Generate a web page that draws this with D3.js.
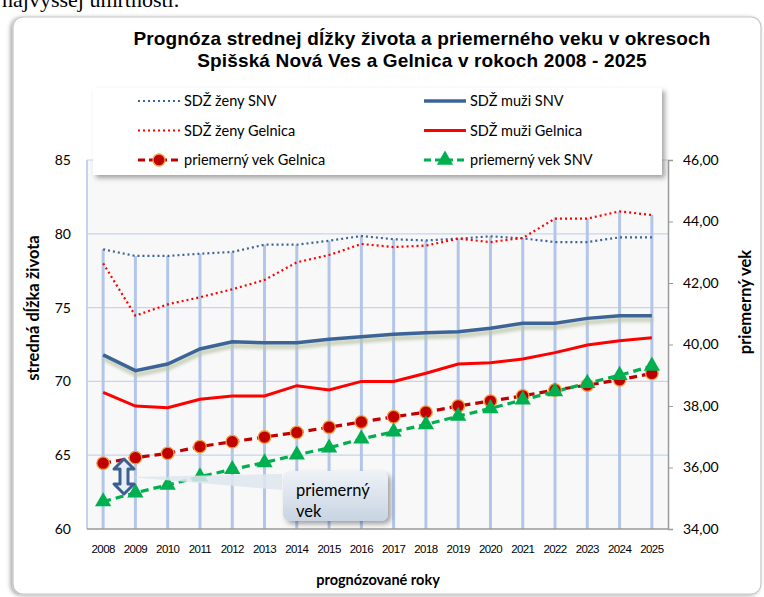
<!DOCTYPE html>
<html>
<head>
<meta charset="utf-8">
<script src="https://cdn.jsdelivr.net/npm/d3@7"></script>
<style>
  body { margin: 0; background: #fff; }
  svg { display: block; }
</style>
</head>
<body>
<div class="chart"></div>
<script>
var svgWidth = 764;
var svgHeight = 597;

// plot area
var margin = { top: 160, right: 96, bottom: 68, left: 87 };
var width = svgWidth - margin.left - margin.right;
var height = svgHeight - margin.top - margin.bottom;

var years = ["2008","2009","2010","2011","2012","2013","2014","2015","2016",
  "2017","2018","2019","2020","2021","2022","2023","2024","2025"];

var zenySNV = [78.95,78.5,78.5,78.65,78.77,79.26,79.26,79.53,79.85,79.63,79.55,79.67,79.83,79.69,79.44,79.44,79.76,79.76];
var zenyGelnica = [78.0,74.45,75.22,75.7,76.24,76.87,78.07,78.56,79.31,79.1,79.2,79.67,79.44,79.72,81.03,81.03,81.52,81.27];
var muziSNV = [71.8,70.73,71.18,72.2,72.69,72.62,72.62,72.85,73.03,73.19,73.3,73.37,73.6,73.94,73.94,74.27,74.45,74.45];
var muziGelnica = [69.26,68.33,68.22,68.79,69.01,69.01,69.71,69.42,70.0,70.0,70.55,71.18,71.27,71.52,71.95,72.47,72.76,72.96];
var vekGelnica = [36.14,36.32,36.46,36.68,36.84,36.99,37.14,37.31,37.48,37.65,37.8,38.0,38.16,38.33,38.52,38.68,38.85,39.06];
var vekSNV = [34.89,35.18,35.43,35.7,35.94,36.16,36.41,36.64,36.93,37.16,37.4,37.67,37.92,38.2,38.47,38.74,39.0,39.3];

var leftTicks = [60,65,70,75,80,85];
var rightTicks = [34,36,38,40,42,44,46];

var svg = d3.select(".chart")
  .append("svg")
  .attr("width", svgWidth)
  .attr("height", svgHeight);

var defs = svg.append("defs");

var sh = defs.append("filter").attr("id", "shadow")
  .attr("x", "-10%").attr("y", "-10%").attr("width", "130%").attr("height", "140%");
sh.append("feDropShadow").attr("dx", 3).attr("dy", 3).attr("stdDeviation", 2.5)
  .attr("flood-color", "#000").attr("flood-opacity", 0.35);

var boxSh = defs.append("filter").attr("id", "boxshadow")
  .attr("x", "-5%").attr("y", "-5%").attr("width", "110%").attr("height", "110%");
boxSh.append("feDropShadow").attr("dx", -2).attr("dy", 1).attr("stdDeviation", 2)
  .attr("flood-color", "#000").attr("flood-opacity", 0.35);

var lineBlur = defs.append("filter").attr("id", "lineblur")
  .attr("x", "-5%").attr("y", "-50%").attr("width", "110%").attr("height", "200%");
lineBlur.append("feGaussianBlur").attr("stdDeviation", 1.5);

var grad = defs.append("linearGradient").attr("id", "callgrad")
  .attr("x1", 0).attr("y1", 0).attr("x2", 0).attr("y2", 1);
grad.append("stop").attr("offset", "0%").attr("stop-color", "#eef2f7");
grad.append("stop").attr("offset", "100%").attr("stop-color", "#c8d4e3");

// text above the chart, cut off by the page top as in the source page
svg.append("text")
  .attr("x", 2)
  .attr("y", 7)
  .style("font-family", "Liberation Serif, serif")
  .style("font-size", "22px")
  .attr("fill", "#000")
  .text("najvyššej úmrtnosti.");

// chart area
svg.append("rect")
  .attr("x", 13).attr("y", 17)
  .attr("width", 748).attr("height", 577)
  .attr("rx", 10)
  .attr("fill", "#fff")
  .attr("stroke", "#c6c6c6")
  .attr("stroke-width", 1.2)
  .attr("filter", "url(#boxshadow)");

// title
var title = svg.append("text")
  .attr("text-anchor", "middle")
  .style("font-family", "Liberation Sans, Arial, sans-serif")
  .style("font-weight", "bold")
  .style("font-size", "19px")
  .style("letter-spacing", "0.15px")
  .attr("fill", "#000");
title.append("tspan").attr("x", 422).attr("y", 45)
  .text("Prognóza strednej dĺžky života a priemerného veku v okresoch");
title.append("tspan").attr("x", 422).attr("y", 67)
  .text("Spišská Nová Ves a Gelnica v rokoch 2008 - 2025");

var chartGroup = svg.append("g")
  .attr("transform", `translate(${margin.left}, ${margin.top})`);

var x = d3.scaleBand().domain(years).range([0, width]);
var yL = d3.scaleLinear().domain([60, 85]).range([height, 0]);
var yR = d3.scaleLinear().domain([34, 46]).range([height, 0]);
var cx = d => x(d) + x.bandwidth() / 2;

// plot background
chartGroup.append("rect")
  .attr("width", width).attr("height", height)
  .attr("fill", "#f8f8f8");

// gridlines
chartGroup.selectAll(".grid")
  .data(leftTicks.slice(1))
  .enter()
  .append("line")
  .attr("x1", 0).attr("x2", width)
  .attr("y1", d => yL(d)).attr("y2", d => yL(d))
  .attr("stroke", "#c6d5ee")
  .attr("stroke-width", 1.2);

// drop lines from the top left-axis value down to the category axis
years.forEach(function(yr, i) {
  var top = Math.max(zenySNV[i], zenyGelnica[i], muziSNV[i], muziGelnica[i]);
  chartGroup.append("line")
    .attr("x1", cx(yr)).attr("x2", cx(yr))
    .attr("y1", yL(top)).attr("y2", height)
    .attr("stroke", "#b3c6e8")
    .attr("stroke-width", 3);
});

// axes lines
chartGroup.append("line")
  .attr("x1", 0).attr("x2", 0).attr("y1", 0).attr("y2", height)
  .attr("stroke", "#b3c6e8").attr("stroke-width", 1.5);
chartGroup.append("line")
  .attr("x1", 0).attr("x2", width).attr("y1", height).attr("y2", height)
  .attr("stroke", "#9a9a9a").attr("stroke-width", 1.5);

var rightAxis = d3.axisRight(yR)
  .tickValues(rightTicks)
  .tickSize(5)
  .tickPadding(10)
  .tickFormat(d => d3.format(".2f")(d).replace(".", ","));
var rAx = chartGroup.append("g")
  .attr("transform", `translate(${width}, 0)`)
  .call(rightAxis);
rAx.select(".domain").attr("stroke", "#9a9a9a").attr("stroke-width", 1.5);
rAx.selectAll(".tick line").attr("stroke", "#9a9a9a");
rAx.selectAll("text")
  .style("font-family", "Lato, sans-serif")
  .style("font-size", "14px")
  .attr("fill", "#000");

var leftAxis = d3.axisLeft(yL)
  .tickValues(leftTicks)
  .tickSize(0)
  .tickPadding(16);
var lAx = chartGroup.append("g").call(leftAxis);
lAx.select(".domain").remove();
lAx.selectAll("text")
  .style("font-family", "Lato, sans-serif")
  .style("font-size", "14px")
  .attr("fill", "#000");

var bottomAxis = d3.axisBottom(x).tickSize(0).tickPadding(16);
var bAx = chartGroup.append("g")
  .attr("transform", `translate(0, ${height})`)
  .call(bottomAxis);
bAx.select(".domain").remove();
bAx.selectAll("text")
  .style("font-family", "Liberation Sans, Arial, sans-serif")
  .style("font-size", "11.5px")
  .style("letter-spacing", "-0.6px")
  .attr("fill", "#000");

// axis titles
svg.append("text")
  .attr("transform", "translate(39, 308) rotate(-90)")
  .attr("text-anchor", "middle")
  .style("font-family", "Lato, sans-serif")
  .style("font-weight", "bold")
  .style("font-size", "16.5px")
  .text("stredná dĺžka života");

svg.append("text")
  .attr("transform", "translate(751, 302) rotate(-90)")
  .attr("text-anchor", "middle")
  .style("font-family", "Lato, sans-serif")
  .style("font-weight", "bold")
  .style("font-size", "16.5px")
  .text("priemerný vek");

svg.append("text")
  .attr("x", 378).attr("y", 585)
  .attr("text-anchor", "middle")
  .style("font-family", "Lato, sans-serif")
  .style("font-weight", "bold")
  .style("font-size", "14.5px")
  .text("prognózované roky");

// lines
function lineL(vals) {
  return d3.line().x((d, i) => cx(years[i])).y(d => yL(d))(vals);
}
function lineR(vals) {
  return d3.line().x((d, i) => cx(years[i])).y(d => yR(d))(vals);
}

// shadow under SDŽ muži SNV
chartGroup.append("path")
  .attr("d", lineL(muziSNV))
  .attr("transform", "translate(1, 4)")
  .attr("fill", "none")
  .attr("stroke", "#b9c4a6")
  .attr("stroke-width", 5)
  .attr("opacity", 0.7)
  .attr("filter", "url(#lineblur)");

chartGroup.append("path")
  .attr("d", lineL(muziSNV))
  .attr("fill", "none")
  .attr("stroke", "#3c6496")
  .attr("stroke-width", 3.5);

chartGroup.append("path")
  .attr("d", lineL(muziGelnica))
  .attr("fill", "none")
  .attr("stroke", "#ff0000")
  .attr("stroke-width", 3);

chartGroup.append("path")
  .attr("d", lineL(zenySNV))
  .attr("fill", "none")
  .attr("stroke", "#3c6496")
  .attr("stroke-width", 2.2)
  .attr("stroke-dasharray", "2,3");

chartGroup.append("path")
  .attr("d", lineL(zenyGelnica))
  .attr("fill", "none")
  .attr("stroke", "#ff0000")
  .attr("stroke-width", 2.2)
  .attr("stroke-dasharray", "2,3");

chartGroup.append("path")
  .attr("d", lineR(vekGelnica))
  .attr("fill", "none")
  .attr("stroke", "#c00000")
  .attr("stroke-width", 3.2)
  .attr("stroke-dasharray", "8,5");

chartGroup.append("path")
  .attr("d", lineR(vekSNV))
  .attr("fill", "none")
  .attr("stroke", "#00b050")
  .attr("stroke-width", 3.2)
  .attr("stroke-dasharray", "8,5");

chartGroup.selectAll(".dotG")
  .data(vekGelnica)
  .enter()
  .append("circle")
  .attr("cx", (d, i) => cx(years[i]))
  .attr("cy", d => yR(d))
  .attr("r", 6.3)
  .attr("fill", "#c00000")
  .attr("stroke", "#f0a040")
  .attr("stroke-width", 1.3);

var tri = d3.symbol().type(d3.symbolTriangle).size(115);
chartGroup.selectAll(".triS")
  .data(vekSNV)
  .enter()
  .append("path")
  .attr("d", tri)
  .attr("transform", (d, i) => `translate(${cx(years[i])}, ${yR(d)})`)
  .attr("fill", "#00b050");

// callout "priemerný vek"
svg.append("path")
  .attr("d", "M282,474 L282,490 L128,477 Z")
  .attr("fill", "#dfe6ee")
  .attr("opacity", 0.85);

svg.append("rect")
  .attr("x", 283).attr("y", 471)
  .attr("width", 105).attr("height", 50)
  .attr("rx", 7)
  .attr("fill", "url(#callgrad)")
  .attr("filter", "url(#shadow)");

var call = svg.append("text")
  .style("font-family", "Lato, sans-serif")
  .style("font-size", "16.5px")
  .attr("fill", "#000");
call.append("tspan").attr("x", 296).attr("y", 496).text("priemerný");
call.append("tspan").attr("x", 296).attr("y", 517).text("vek");

// double arrow between the two age lines
var ax0 = 124, ay0 = 459, ay1 = 494;
svg.append("path")
  .attr("d", `M${ax0},${ay0} L${ax0 + 10},${ay0 + 10} L${ax0 + 4},${ay0 + 10} L${ax0 + 4},${ay1 - 10} ` +
    `L${ax0 + 10},${ay1 - 10} L${ax0},${ay1} L${ax0 - 10},${ay1 - 10} L${ax0 - 4},${ay1 - 10} ` +
    `L${ax0 - 4},${ay0 + 10} L${ax0 - 10},${ay0 + 10} Z`)
  .attr("fill", "#e8eef6")
  .attr("stroke", "#3d5f8f")
  .attr("stroke-width", 3)
  .attr("stroke-linejoin", "round");

// legend
var legend = svg.append("g");
legend.append("rect")
  .attr("x", 93).attr("y", 88)
  .attr("width", 569).attr("height", 87)
  .attr("fill", "#fff")
  .attr("filter", "url(#shadow)");

var legendItems = [
  { name: "SDŽ ženy SNV", col: 0, row: 0, color: "#3c6496", dash: "2,3", w: 2.2 },
  { name: "SDŽ muži SNV", col: 1, row: 0, color: "#3c6496", dash: null, w: 3.5 },
  { name: "SDŽ ženy Gelnica", col: 0, row: 1, color: "#ff0000", dash: "2,3", w: 2.2 },
  { name: "SDŽ muži Gelnica", col: 1, row: 1, color: "#ff0000", dash: null, w: 3 },
  { name: "priemerný vek Gelnica", col: 0, row: 2, color: "#c00000", dash: "7,4", w: 3, mark: "circle" },
  { name: "priemerný vek SNV", col: 1, row: 2, color: "#00b050", dash: "7,4", w: 3, mark: "tri" }
];

legendItems.forEach(function(d) {
  var lx = d.col === 0 ? 138 : 424;
  var ly = 101 + d.row * 29.5;
  legend.append("line")
    .attr("x1", lx).attr("x2", lx + 42)
    .attr("y1", ly).attr("y2", ly)
    .attr("stroke", d.color)
    .attr("stroke-width", d.w)
    .attr("stroke-dasharray", d.dash);
  if (d.mark === "circle") {
    legend.append("circle")
      .attr("cx", lx + 21).attr("cy", ly).attr("r", 6)
      .attr("fill", "#c00000").attr("stroke", "#f0a040").attr("stroke-width", 1.3);
  }
  if (d.mark === "tri") {
    legend.append("path")
      .attr("d", tri)
      .attr("transform", `translate(${lx + 21}, ${ly})`)
      .attr("fill", "#00b050");
  }
  legend.append("text")
    .attr("x", lx + 46).attr("y", ly + 5)
    .style("font-family", "Lato, sans-serif")
    .style("font-size", "14.5px")
    .attr("fill", "#000")
    .text(d.name);
});
</script>
</body>
</html>
